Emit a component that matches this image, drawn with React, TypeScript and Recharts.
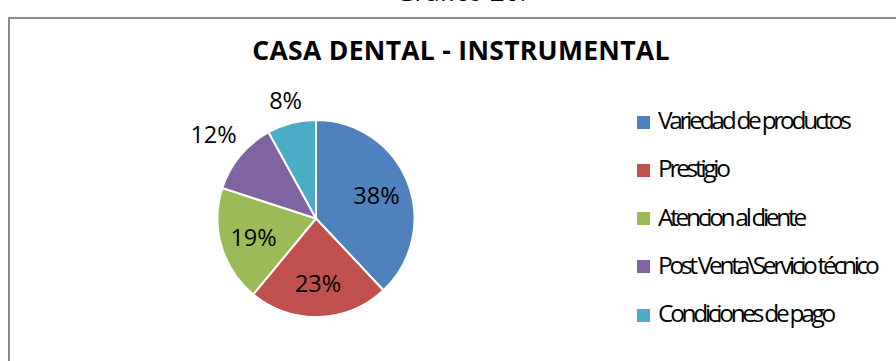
import { PieChart, Pie, Cell } from 'recharts';

const categories = [
  'Variedad de productos',
  'Prestigio',
  'Atencion al cliente',
  'Post Venta\\Servicio técnico',
  'Condiciones de pago',
];
const shares = [38, 23, 19, 12, 8];
const SLICE_COLORS = ['#4F81BD', '#C0504D', '#9BBB59', '#8064A2', '#4BACC6'];

const data = categories.map((name, i) => ({ name, value: shares[i] }));

const FONT = '"Open Sans", "Noto Sans", sans-serif';
const RAD = Math.PI / 180;
const CX = 316;
const CY = 218.5;
const R = 98.5;

// inside labels for big slices, outside for the small ones (like Excel best fit)
const renderLabel = (props: any) => {
  const { cx, cy, midAngle, outerRadius, percent } = props;
  const text = `${Math.round(percent * 100)}%`;
  const cos = Math.cos(-midAngle * RAD);
  const sin = Math.sin(-midAngle * RAD);
  let r: number;
  if (percent > 0.15) {
    r = outerRadius * 0.66;
  } else {
    const w = text.length * 14.7;
    r = outerRadius + 12 + Math.abs(cos) * w / 2 + Math.abs(sin) * 17 / 2;
  }
  return (
    <text
      x={cx + r * cos}
      y={cy + r * sin}
      textAnchor="middle"
      dominantBaseline="central"
      fill="#000"
      style={{ fontFamily: FONT, fontSize: 23.5 }}
    >
      {text}
    </text>
  );
};

export default function App() {
  return (
    <div
      style={{
        position: 'absolute',
        left: 0,
        top: 0,
        width: 896,
        height: 361,
        overflow: 'hidden',
        background: '#fff',
        fontFamily: FONT,
      }}
    >
      <div
        style={{
          position: 'absolute',
          left: 0,
          width: 922,
          top: -22,
          textAlign: 'center',
          fontSize: 26,
          lineHeight: 1,
          color: '#000',
        }}
      >
        Gráfico 20.
      </div>
      <div
        style={{
          position: 'absolute',
          left: 8,
          top: 17,
          width: 1000,
          height: 400,
          border: '2px solid #8c8c8c',
        }}
      />
      <div
        style={{
          position: 'absolute',
          left: 0,
          width: 922,
          top: 36.5,
          textAlign: 'center',
          fontSize: 26.5,
          fontWeight: 700,
          lineHeight: 1,
          letterSpacing: 0.3,
          color: '#000',
          whiteSpace: 'nowrap',
        }}
      >
        CASA DENTAL - INSTRUMENTAL
      </div>
      <div style={{ position: 'absolute', left: 0, top: 0 }}>
        <PieChart width={896} height={361} margin={{ top: 0, right: 0, bottom: 0, left: 0 }}>
          <Pie
            data={data}
            dataKey="value"
            cx={CX}
            cy={CY}
            outerRadius={R}
            startAngle={90}
            endAngle={-270}
            stroke="#fff"
            strokeWidth={2}
            label={renderLabel}
            labelLine={false}
            isAnimationActive={false}
          >
            {data.map((_, index) => (
              <Cell key={`cell-${index}`} fill={SLICE_COLORS[index % SLICE_COLORS.length]} />
            ))}
          </Pie>
        </PieChart>
      </div>
      {categories.map((name, i) => (
        <div key={name}>
          <div
            style={{
              position: 'absolute',
              left: 637,
              top: 115.5 + i * 48.25,
              width: 13,
              height: 13,
              background: SLICE_COLORS[i],
            }}
          />
          <div
            style={{
              position: 'absolute',
              left: 658,
              top: 108.2 + i * 48.25,
              fontSize: 24.5,
              lineHeight: 1,
              letterSpacing: -3.3,
              whiteSpace: 'nowrap',
              color: '#000',
            }}
          >
            {name}
          </div>
        </div>
      ))}
    </div>
  );
}
